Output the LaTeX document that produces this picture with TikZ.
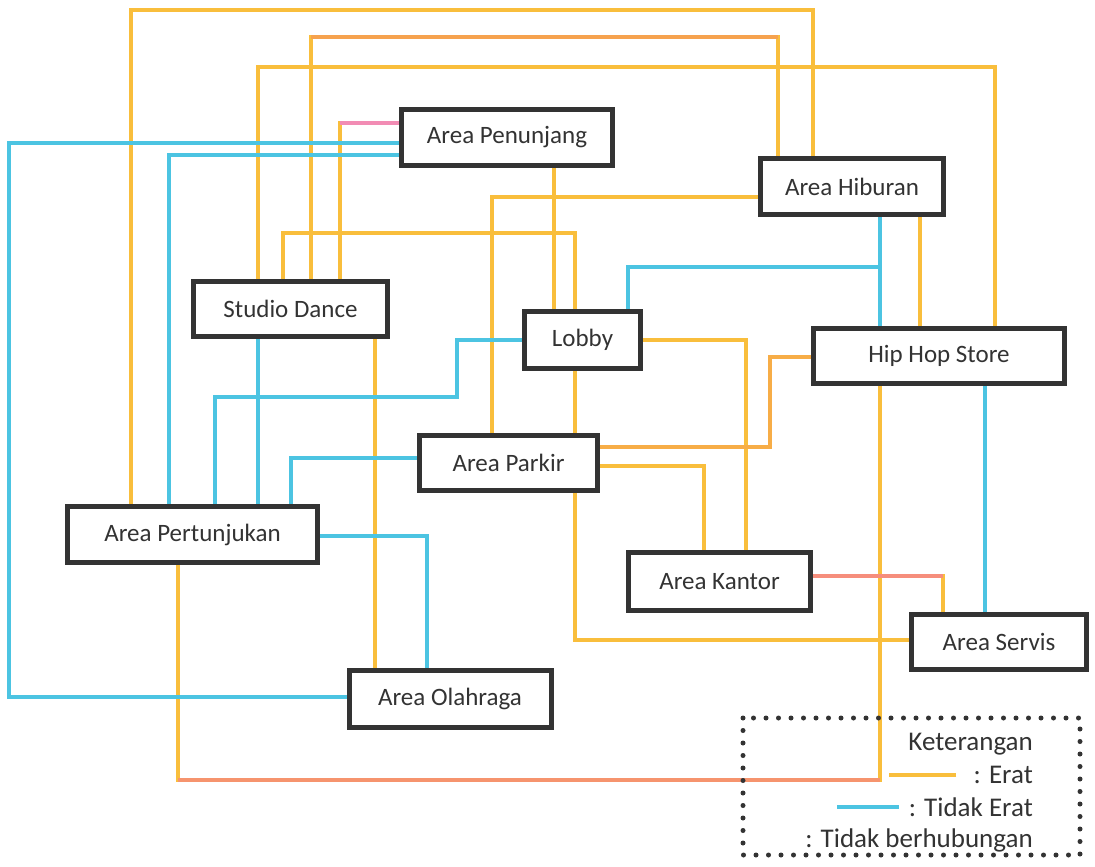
\documentclass[tikz,border=0pt]{standalone}
\usepackage{fontspec}
\setmainfont{Carlito}
\definecolor{oranye}{HTML}{F9BE3C}
\definecolor{jingga}{HTML}{F6A24E}
\definecolor{salem}{HTML}{F68E7C}
\definecolor{merahmuda}{HTML}{F28CB4}
\definecolor{biru}{HTML}{4CC4E2}
\definecolor{garis}{HTML}{333333}
\begin{document}
\begin{tikzpicture}[x=1pt,y=-1pt,
    ruang/.style={draw=garis,line width=5pt,fill=white,text=garis,inner sep=0pt,
      font=\fontsize{25}{30}\selectfont},
    erat/.style={draw=oranye,line width=4.5pt},
    tdkerat/.style={draw=biru,line width=4.5pt},
    ket/.style={anchor=east,text=garis,inner sep=0pt,font=\fontsize{27}{32}\selectfont}]
  \useasboundingbox (0,0) rectangle (1095,867);

  %ruang-ruang
	\node[ruang,minimum width=211pt,minimum height=56pt] (pen) at (507,137.5) {Area Penunjang};
	\node[ruang,minimum width=183pt,minimum height=56pt] (hib) at (852,186.5) {Area Hiburan};
	\node[ruang,minimum width=194pt,minimum height=55pt] (studio) at (290.5,309) {Studio Dance};
	\node[ruang,minimum width=116pt,minimum height=57pt] (lobby) at (582.5,340) {Lobby};
	\node[ruang,minimum width=251pt,minimum height=55pt] (hhs) at (939,356) {Hip Hop Store};
	\node[ruang,minimum width=178pt,minimum height=55pt] (parkir) at (508.5,463) {Area Parkir};
	\node[ruang,minimum width=250pt,minimum height=56pt] (pert) at (192.5,534.5) {Area Pertunjukan};
	\node[ruang,minimum width=182pt,minimum height=58pt] (kantor) at (719.5,581.5) {Area Kantor};
	\node[ruang,minimum width=175pt,minimum height=55pt] (servis) at (999,642) {Area Servis};
	\node[ruang,minimum width=202pt,minimum height=57pt] (olahraga) at (450,698.5) {Area Olahraga};

  %hubungan erat
	\draw[erat] (pert.north -| 131,0) |- (813,10) -- (hib.north -| 813,0);
	\draw[erat] (studio.north -| 311,0) |- (778,37) -- (hib.north -| 778,0);
	\draw[erat] (studio.north -| 258,0) |- (995,67) -- (hhs.north -| 995,0);
	\draw[erat] (pen.west |- 0,123) -| (studio.north -| 340,0);
	\draw[erat] (pen.south -| 554,0) -- (lobby.north -| 554,0);
	\draw[erat] (hib.west |- 0,197) -| (parkir.north -| 492,0);
	\draw[erat] (studio.north -| 283,0) |- (575,233) -- (lobby.north -| 575,0);
	\draw[erat] (hib.south -| 920,0) -- (hhs.north -| 920,0);
	\draw[erat] (studio.south -| 375,0) -- (olahraga.north -| 375,0);
	\draw[erat] (lobby.east |- 0,340) -| (kantor.north -| 746,0);
	\draw[erat] (lobby.south -| 575,0) -- (parkir.north -| 575,0);
	\draw[erat,draw=jingga!60!oranye] (hhs.west |- 0,357) -| (770,447) -- (parkir.east |- 0,447);
	\draw[erat] (parkir.east |- 0,466) -| (kantor.north -| 704,0);
	\draw[erat] (parkir.south -| 575,0) |- (servis.west |- 0,640);
	\draw[erat] (pert.south -| 178,0) |- (880,780) -- (hhs.south -| 880,0);
	\draw[erat] (kantor.east |- 0,576) -| (servis.north -| 943,0);
	%bagian garis yang kemerahan
	\draw[erat,draw=jingga] (311,37) -- (778,37);
	\draw[erat,draw=merahmuda] (pen.west |- 0,123) -- (340,123);
	\draw[erat,draw=salem!70!jingga] (178,780) -- (880,780);
	\draw[erat,draw=salem] (kantor.east |- 0,576) -- (943,576);

  %hubungan tidak erat
	\draw[tdkerat] (pen.west |- 0,143) -| (9,697) -- (olahraga.west |- 0,697);
	\draw[tdkerat] (pen.west |- 0,155) -| (pert.north -| 169,0);
	\draw[tdkerat] (hib.south -| 880,0) -- (hhs.north -| 880,0);
	\draw[tdkerat] (lobby.north -| 628,0) |- (880,267);
	\draw[tdkerat] (studio.south -| 258,0) -- (pert.north -| 258,0);
	\draw[tdkerat] (lobby.west |- 0,340) -| (457,397) -| (pert.north -| 215,0);
	\draw[tdkerat] (parkir.west |- 0,458) -| (pert.north -| 291,0);
	\draw[tdkerat] (pert.east |- 0,536) -| (olahraga.north -| 427,0);
	\draw[tdkerat] (hhs.south -| 985,0) -- (servis.north -| 985,0);

  %keterangan
	\draw[garis,line width=5pt,line cap=round,dash pattern=on 0pt off 12.5pt] (743,718) rectangle (1080,855);
	\node[ket] (ket) at (1033,744) {Keterangan};
	\node[ket] (ket1) at (1033,775) {: Erat};
	\node[ket] (ket2) at (1033,807) {: Tidak Erat};
	\node[ket] (ket3) at (1033,840) {: Tidak berhubungan};
	\draw[erat] ([xshift=-17pt]ket1.west) -- ++(-67,0);
	\draw[tdkerat] ([xshift=-10pt]ket2.west) -- ++(-62,0);
\end{tikzpicture}
\end{document}
